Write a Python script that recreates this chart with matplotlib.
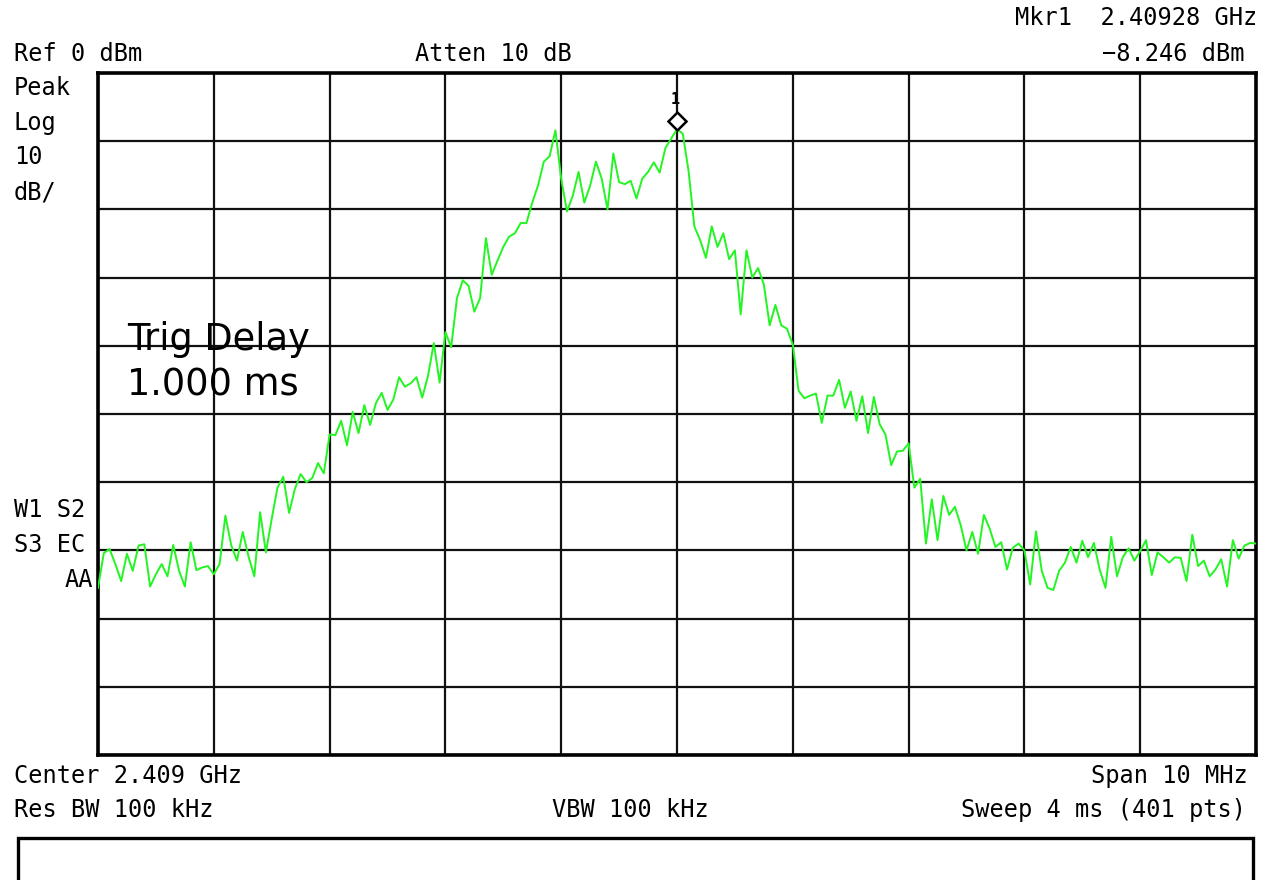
import numpy as np
import matplotlib.pyplot as plt
from matplotlib.patches import Rectangle
from matplotlib.transforms import ScaledTranslation

# analyzer settings
center_ghz = 2.409
span_mhz = 10.0
ref_dbm = 0.0
db_per_div = 10.0
marker_idx = 100
marker_dbm = -8.246

# trace (every 2nd of the 401 sweep points), dBm
trace_dbm = [
    -75.5, -70.4, -69.8, -72.0, -74.5, -70.5, -73.0, -69.3, -69.1, -75.3, -73.5, -72.0, -73.8, -69.2, -73.0, -75.3, -68.8, -72.9,
    -72.5, -72.3, -73.5, -72.0, -64.9, -69.2, -71.5, -67.3, -70.9, -73.8, -64.4, -70.3, -65.4, -60.8, -59.2, -64.5, -61.0,
    -58.8, -60.0, -59.4, -57.2, -58.7, -53.0, -53.1, -51.0, -54.6, -49.7, -52.8, -48.7, -51.6, -48.4, -46.9, -49.4, -47.9,
    -44.6, -46.0, -45.5, -44.6, -47.6, -44.4, -39.6, -45.4, -38.0, -40.2, -33.0, -30.4, -31.2, -35.0, -33.0, -24.2, -29.6,
    -27.5, -25.5, -24.0, -23.5, -22.0, -22.0, -19.0, -16.5, -13.0, -12.2, -8.4, -15.5, -20.3, -18.0, -14.5, -19.0, -16.5, -13.0,
    -15.5, -20.0, -11.8, -16.0, -16.3, -15.8, -18.4, -15.5, -14.5, -13.1, -14.6, -11.0, -9.6, -8.246, -8.9, -14.4, -22.5,
    -24.5, -27.1, -22.5, -25.5, -23.5, -27.3, -26.0, -35.4, -26.0, -30.0, -28.6, -31.0, -37.0, -34.0, -37.0, -37.5, -39.8,
    -46.6, -47.7, -47.3, -47.0, -51.3, -47.3, -47.3, -45.0, -49.1, -46.7, -51.0, -47.4, -52.8, -47.5, -51.5, -53.0, -57.5, -55.5,
    -55.4, -54.3, -60.8, -59.5, -69.0, -62.5, -68.5, -62.0, -64.8, -63.6, -66.3, -70.0, -67.3, -70.5, -64.8, -66.8, -69.5,
    -68.8, -72.8, -69.6, -69.0, -70.0, -75.0, -67.2, -73.0, -75.5, -75.8, -73.0, -71.8, -69.5, -71.8, -68.6, -71.0, -68.9,
    -72.8, -75.5, -68.0, -73.8, -71.0, -69.7, -71.5, -70.1, -68.5, -73.6, -70.3, -71.0, -71.8, -71.0, -71.1, -74.5, -67.7,
    -72.3, -71.5, -73.8, -72.8, -71.3, -75.3, -68.5, -71.2, -69.3, -68.9, -69.0,
]

W, H = 1269, 880
fig = plt.figure(figsize=(W / 100, H / 100), dpi=100)
ax = fig.add_axes([98 / W, 125 / H, 1158 / W, 682 / H])

f0 = center_ghz - span_mhz / 2000
f1 = center_ghz + span_mhz / 2000
freq = np.linspace(f0, f1, len(trace_dbm))

ax.plot(freq, trace_dbm, color='#22f522', lw=1.4, zorder=3)
ax.set_xlim(f0, f1)
ax.set_ylim(ref_dbm - 10 * db_per_div, ref_dbm)
ax.set_xticks(np.linspace(f0, f1, 11))
ax.set_yticks(np.linspace(ref_dbm - 10 * db_per_div, ref_dbm, 11))
ax.grid(True, color='#111111', lw=1.6, zorder=1)
ax.set_axisbelow(True)
ax.tick_params(length=0, labelbottom=False, labelleft=False)
for s in ax.spines.values():
    s.set_linewidth(2.6)
    s.set_color('black')

# marker 1 sitting just above the peak
lift = ax.transData + ScaledTranslation(0, 8 / 100, fig.dpi_scale_trans)
ax.plot([freq[marker_idx]], [marker_dbm], marker='D', ms=9.5, mfc='white', mec='black',
        mew=1.8, ls='none', zorder=4, transform=lift)
ax.annotate('1', xy=(freq[marker_idx], marker_dbm), xytext=(-2, 30), textcoords='offset pixels',
            ha='center', va='center', fontsize=11, family='DejaVu Sans Mono', fontweight='bold')


def px(x, y):
    return x / W, 1 - y / H


mono = dict(family='DejaVu Sans Mono', fontsize=17, va='center')
fig.text(*px(14, 54), 'Ref 0 dBm', ha='left', **mono)
fig.text(*px(415, 54), 'Atten 10 dB', ha='left', **mono)
fig.text(*px(1257, 18), 'Mkr1  2.40928 GHz', ha='right', **mono)
fig.text(*px(1245, 54), '\u22128.246 dBm', ha='right', **mono)
for y, t in [(88, 'Peak'), (123, 'Log'), (157, '10'), (192, 'dB/')]:
    fig.text(*px(14, y), t, ha='left', **mono)
fig.text(*px(14, 510), 'W1 S2', ha='left', **mono)
fig.text(*px(14, 545), 'S3 EC', ha='left', **mono)
fig.text(*px(93, 580), 'AA', ha='right', **mono)
fig.text(*px(14, 776), 'Center 2.409 GHz', ha='left', **mono)
fig.text(*px(1248, 776), 'Span 10 MHz', ha='right', **mono)
fig.text(*px(14, 810), 'Res BW 100 kHz', ha='left', **mono)
fig.text(*px(552, 810), 'VBW 100 kHz', ha='left', **mono)
fig.text(*px(1246, 810), 'Sweep 4 ms (401 pts)', ha='right', **mono)

big = dict(family='DejaVu Sans', fontsize=26.5, va='center', ha='left', zorder=5)
fig.text(*px(127, 340), 'Trig Delay', **big)
fig.text(*px(127, 385), '1.000 ms', **big)

fig.patches.append(Rectangle(px(18, 895), (1253 - 18) / W, (895 - 838) / H, transform=fig.transFigure,
                             fill=False, lw=2.4, ec='black'))

fig.savefig('out.png', dpi=100, facecolor='white')
